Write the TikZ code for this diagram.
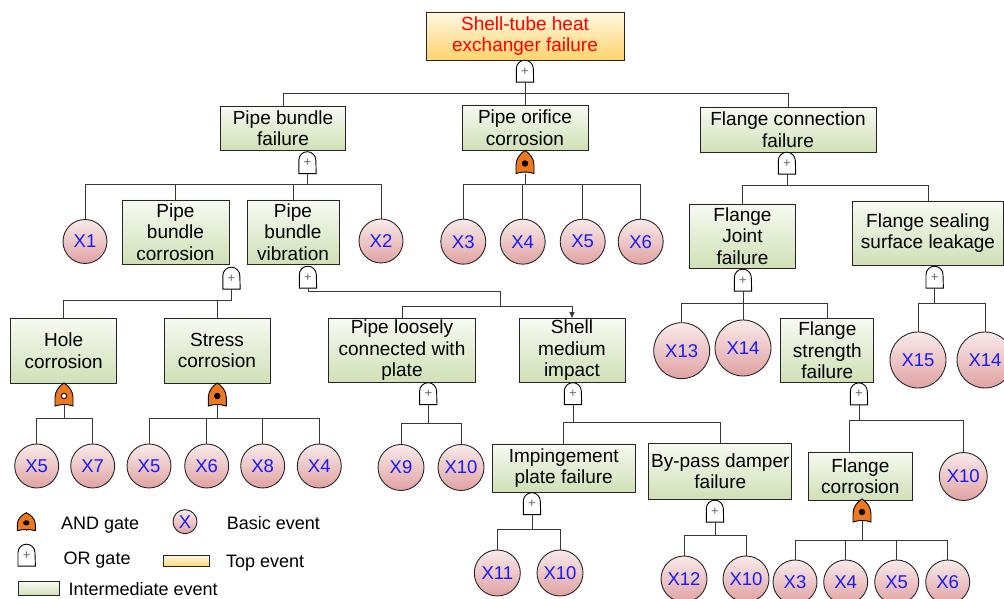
\documentclass[tikz,border=0pt]{standalone}
\usepackage{fontspec}
\setmainfont{Liberation Sans}
\usetikzlibrary{arrows.meta}

\definecolor{gateorange}{RGB}{238,120,32}
\definecolor{midtop}{RGB}{247,250,242}
\definecolor{midbottom}{RGB}{208,224,182}
\definecolor{toptop}{RGB}{255,248,225}
\definecolor{topbottom}{RGB}{255,212,110}
\definecolor{basictop}{RGB}{250,234,234}
\definecolor{basicbottom}{RGB}{224,162,162}
\definecolor{evblue}{RGB}{25,25,255}

\newcommand{\evfont}{\fontsize{19}{21.5}\selectfont}
\newcommand{\xfont}{\fontsize{18.5}{18.5}\selectfont}
\newcommand{\legfont}{\fontsize{18}{18}\selectfont}

\tikzset{
  link/.style={draw=black!78, line width=1pt},
  gateline/.style={draw=black, line width=0.9pt},
  gatebox/.style={minimum width=18pt, minimum height=23pt, inner sep=0pt},
  topevent/.style={draw=black!85, line width=0.9pt, top color=toptop, bottom color=topbottom,
    align=center, text=red, font=\evfont, inner sep=0pt},
  midevent/.style={draw=black!85, line width=0.9pt, top color=midtop, bottom color=midbottom,
    align=center, font=\evfont, inner sep=0pt},
  basic/.style={circle, draw=black!85, line width=0.9pt, top color=basictop, bottom color=basicbottom,
    text=evblue, font=\xfont, inner sep=0pt},
  legendtext/.style={anchor=base west, font=\legfont, inner sep=0pt},
}

% OR gate: name, position
\newcommand{\orgate}[2]{%
  \node[gatebox, minimum width=17pt, minimum height=22pt] (#1) at (#2) {};
  \draw[gateline, fill=white] (#1.south west) -- ++(0,13.5) arc[start angle=180, end angle=0, radius=8.5] -- (#1.south east) -- cycle;
  \node[font=\fontsize{13}{13}\selectfont, text=black!60, inner sep=0pt] (#1p) at ([yshift=-0.5pt]#1.center) {+};
}
% AND gate: [transform], name, position, marker fill
\newcommand{\andgate}[4][]{%
  \node[gatebox] (#2) at (#3) {};
  \draw[gateline, fill=gateorange, shift={(#3)}, #1] (-9,-11.5) -- (-9,-3)
    .. controls (-9,4) and (-4,9) .. (0,11.5) .. controls (4,9) and (9,4) .. (9,-3)
    -- (9,-11.5) .. controls (3,-9.5) and (-3,-9.5) .. cycle;
  \draw[link, shift={(#3)}, #1] (0,-10) -- (0,-11.5);
  \draw[gateline, fill=#4, shift={(#3)}, #1] (0,-1.5) circle[radius=2.7];
}

\begin{document}
\begin{tikzpicture}[x=1pt, y=1pt]
  \useasboundingbox (0,0) rectangle (1004,599);

  % top event
  \node[topevent, minimum width=198pt, minimum height=48pt] (top) at (525,563) {Shell-tube heat\\exchanger failure};
  \orgate{gtop}{525,528}
  \coordinate (btop) at (525,505.7);
  \draw[link] (gtop.south) -- (btop);

  \node[midevent, minimum width=125pt, minimum height=44pt] (pbf) at (283,471) {Pipe bundle\\failure};
  \node[midevent, minimum width=126pt, minimum height=45pt] (poc) at (525,471.5) {Pipe orifice\\corrosion};
  \node[midevent, minimum width=176pt, minimum height=45pt] (fcf) at (788,469.5) {Flange connection\\failure};
  \foreach \c in {pbf,poc,fcf} \draw[link] (btop) -| (\c.north);

  % pipe bundle failure
  \orgate{gpbf}{307.5,436.5}
  \coordinate (bpbf) at (307.5,414.7);
  \draw[link] (gpbf.south) -- (bpbf);
  \node[basic, minimum size=44pt] (x1) at (85,357.5) {X1};
  \node[midevent, minimum width=107pt, minimum height=64pt] (pbc) at (175.5,367) {Pipe\\bundle\\corrosion};
  \node[midevent, minimum width=92pt, minimum height=64pt] (pbv) at (293,367) {Pipe\\bundle\\vibration};
  \node[basic, minimum size=44pt] (x2) at (381,358) {X2};
  \foreach \c in {x1,pbc,pbv,x2} \draw[link] (bpbf) -| (\c.north);

  % pipe orifice corrosion
  \andgate{gpoc}{525,437}{black}
  \coordinate (bpoc) at (525,414);
  \draw[link] (gpoc.south) -- (bpoc);
  \foreach \n/\x/\t in {a/463.3/X3, b/522.7/X4, c/582.7/X5, d/640.7/X6} {
    \node[basic, minimum size=45pt] (poc\n) at (\x,357.3) {\t};
    \draw[link] (bpoc) -| (poc\n.north);
  }

  % flange connection failure
  \orgate{gfcf}{787,436}
  \coordinate (bfcf) at (787,413);
  \draw[link] (gfcf.south) -- (bfcf);
  \node[midevent, minimum width=106pt, minimum height=64pt] (fjf) at (742.5,363) {Flange\\Joint\\failure};
  \node[midevent, minimum width=151pt, minimum height=64pt] (fss) at (928,366) {Flange sealing\\surface leakage};
  \foreach \c in {fjf,fss} \draw[link] (bfcf) -| (\c.north);

  % pipe bundle corrosion
  \orgate{gpbc}{231.5,321}
  \coordinate (bpbc) at (231.5,298.3);
  \draw[link] (gpbc.south) -- (bpbc);
  \node[midevent, minimum width=106pt, minimum height=65pt] (hc) at (63.7,248.5) {Hole\\corrosion};
  \node[midevent, minimum width=106pt, minimum height=65pt] (sc) at (217,248.5) {Stress\\corrosion};
  \foreach \c in {hc,sc} \draw[link] (bpbc) -| (\c.north);

  \andgate{ghc}{64,204.5}{white}
  \coordinate (bhc) at (64,180);
  \draw[link] (ghc.south) -- (bhc);
  \foreach \n/\x/\t in {a/36.7/X5, b/92.7/X7} {
    \node[basic, minimum size=44pt] (hc\n) at (\x,133) {\t};
    \draw[link] (bhc) -| (hc\n.north);
  }

  \andgate{gsc}{217.3,204.5}{black}
  \coordinate (bsc) at (217.3,180);
  \draw[link] (gsc.south) -- (bsc);
  \foreach \n/\x/\t in {a/149/X5, b/206.7/X6, c/262.7/X8, d/319.3/X4} {
    \node[basic, minimum size=44pt] (sc\n) at (\x,133) {\t};
    \draw[link] (bsc) -| (sc\n.north);
  }

  % pipe bundle vibration
  \orgate{gpbv}{308,322}
  \coordinate (kpbv) at (500,307);
  \coordinate (bpbv) at (500,292);
  \draw[link] (gpbv.south) |- (kpbv) -- (bpbv);
  \node[midevent, minimum width=147pt, minimum height=64pt] (plc) at (402,248.5) {Pipe loosely\\connected with\\plate};
  \node[midevent, minimum width=106pt, minimum height=64pt] (smi) at (572,248.5) {Shell\\medium\\impact};
  \draw[link] (bpbv) -| (plc.north);
  \draw[link, -{Triangle[length=6pt, width=5pt]}] (bpbv) -| (smi.north);

  \orgate{gplc}{428.3,205.5}
  \coordinate (bplc) at (428.3,175.7);
  \draw[link] (gplc.south) -- (bplc);
  \foreach \n/\x/\t in {a/401/X9, b/461/X10} {
    \node[basic, minimum size=46pt] (plc\n) at (\x,131.5) {\t};
    \draw[link] (bplc) -| (plc\n.north);
  }

  \orgate{gsmi}{573,205.5}
  \coordinate (bsmi) at (573,176.3);
  \draw[link] (gsmi.south) -- (bsmi);
  \node[midevent, minimum width=143pt, minimum height=48pt] (ipf) at (563.7,131) {Impingement\\plate failure};
  \node[midevent, minimum width=143pt, minimum height=56pt] (bdf) at (720.3,127.7) {By-pass damper\\failure};
  \foreach \c in {ipf,bdf} \draw[link] (bsmi) -| (\c.north);

  \orgate{gipf}{532,95.5}
  \coordinate (bipf) at (532,69.7);
  \draw[link] (gipf.south) -- (bipf);
  \foreach \n/\x/\t in {a/497.3/X11, b/560/X10} {
    \node[basic, minimum size=46pt] (ipf\n) at (\x,26) {\t};
    \draw[link] (bipf) -| (ipf\n.north);
  }

  \orgate{gbdf}{715,88}
  \coordinate (bbdf) at (715,63.7);
  \draw[link] (gbdf.south) -- (bbdf);
  \foreach \n/\x/\t in {a/684/X12, b/746/X10} {
    \node[basic, minimum size=46pt] (bdf\n) at (\x,20) {\t};
    \draw[link] (bbdf) -| (bdf\n.north);
  }

  % flange joint failure
  \orgate{gfjf}{743,319}
  \coordinate (bfjf) at (743,295.7);
  \draw[link] (gfjf.south) -- (bfjf);
  \node[basic, minimum size=56pt] (x13) at (681.7,248.3) {X13};
  \node[basic, minimum size=56pt] (x14) at (743,251) {X14};
  \node[midevent, minimum width=93pt, minimum height=64pt] (fsf) at (827.3,248.5) {Flange\\strength\\failure};
  \foreach \c in {x13,x14,fsf} \draw[link] (bfjf) -| (\c.north);

  \orgate{gfss}{934.7,322}
  \coordinate (bfss) at (934.7,295);
  \draw[link] (gfss.south) -- (bfss);
  \node[basic, minimum size=56pt] (x15) at (918,239) {X15};
  \node[basic, minimum size=56pt] (x14b) at (985,239) {X14};
  \foreach \c in {x15,x14b} \draw[link] (bfss) -| (\c.north);

  \orgate{gfsf}{859,205.3}
  \coordinate (bfsf) at (859,178.3);
  \draw[link] (gfsf.south) -- (bfsf);
  \node[midevent, minimum width=104pt, minimum height=48pt] (fc) at (860.3,123) {Flange\\corrosion};
  \node[basic, minimum size=48pt] (x10c) at (963.3,122.5) {X10};
  \draw[link] (bfsf) -| ([xshift=-11pt]fc.north);
  \draw[link] (bfsf) -| (x10c.north);

  \andgate{gfc}{862,88.5}{black}
  \coordinate (bfc) at (862,58);
  \draw[link] (gfc.south) -- (bfc);
  \foreach \n/\x/\t in {a/795/X3, b/845.7/X4, c/896.7/X5, d/947.7/X6} {
    \node[basic, minimum size=44pt] (fc\n) at (\x,17) {\t};
    \draw[link] (bfc) -| (fc\n.north);
  }

  % legend
  \andgate[yscale=0.78]{lgand}{26.3,77.3}{black}
  \node[legendtext] (lgandt) at (61,69.7) {AND gate};
  \node[basic, minimum size=24pt] (lgbasic) at (185,77.3) {X};
  \node[legendtext] (lgbasict) at (226.7,69.7) {Basic event};
  \orgate{lgor}{26.7,44}
  \node[legendtext] (lgort) at (63.3,34) {OR gate};
  \node[topevent, minimum width=46pt, minimum height=11pt] (lgtop) at (186.3,37.8) {};
  \node[legendtext] (lgtopt) at (226,31.7) {Top event};
  \node[midevent, minimum width=41pt, minimum height=14.3pt] (lgmid) at (38.8,10.2) {};
  \node[legendtext] (lgmidt) at (68.3,3.7) {Intermediate event};
\end{tikzpicture}
\end{document}
